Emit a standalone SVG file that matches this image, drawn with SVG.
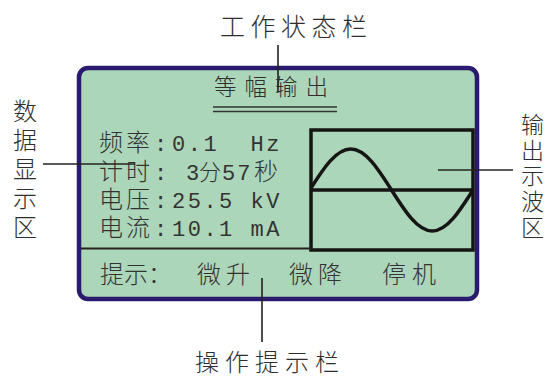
<svg xmlns="http://www.w3.org/2000/svg" width="547" height="378" viewBox="0 0 547 378">
<style>
.lbl{font-family:"Noto Sans CJK SC","Liberation Sans",sans-serif;font-weight:300;fill:#2e2e2e;font-size:24px}
.cjk{font-family:"Noto Sans CJK SC","Liberation Sans",sans-serif;font-weight:300;fill:#333;font-size:24px}
.asc{font-family:"Liberation Mono","Noto Sans CJK SC",monospace;fill:#333;font-size:22px;letter-spacing:2.5px}
.lead{stroke:#222;stroke-width:1.6;fill:none}
.blk{stroke:#151515;fill:none}
</style>
<rect width="547" height="378" fill="#ffffff"/>
<g id="panel">
<rect x="79" y="68" width="398" height="231" rx="9" fill="#acd6b9" stroke="#2a1b6e" stroke-width="4.5"/>
</g>
<g id="status-bar">
<text class="lbl" x="214" y="95" letter-spacing="8" style="font-size:22.5px">等幅输出</text>
<line x1="213" y1="107" x2="337" y2="107" stroke="#333" stroke-width="1.6"/>
<line x1="213" y1="111.5" x2="337" y2="111.5" stroke="#333" stroke-width="1.6"/>
</g>
<g id="data-area">
<text class="cjk" y="151"><tspan x="99 126">频率</tspan><tspan class="asc" x="154">:</tspan><tspan class="asc" x="172" xml:space="preserve">0.1  Hz</tspan></text>
<text class="cjk" y="180"><tspan x="99 126">计时</tspan><tspan class="asc" x="154">:</tspan><tspan class="asc" x="186">3</tspan><tspan x="199" style="font-size:22px">分</tspan><tspan class="asc" x="222" style="letter-spacing:2px">57</tspan><tspan x="254">秒</tspan></text>
<text class="cjk" y="208"><tspan x="99 126">电压</tspan><tspan class="asc" x="154">:</tspan><tspan class="asc" x="172" xml:space="preserve">25.5 kV</tspan></text>
<text class="cjk" y="236"><tspan x="99 126">电流</tspan><tspan class="asc" x="154">:</tspan><tspan class="asc" x="172" xml:space="preserve">10.1 mA</tspan></text>
</g>
<g id="waveform">
<rect class="blk" x="311" y="130" width="162" height="120" stroke-width="3.5"/>
<line class="blk" x1="311" y1="190" x2="473" y2="190" stroke-width="3.5"/>
<path class="blk" stroke-width="3.5" d="M311,188 C323.5,168.5 336,149 350.75,149 C365.5,149 378.2,169 391.5,190 C404.8,211 417.5,231 432.25,231 C447,231 459.7,211 473,190"/>
</g>
<g id="prompt-bar">
<line x1="81" y1="248.5" x2="311" y2="248.5" stroke="#222" stroke-width="2"/>
<text class="cjk" y="283" style="font-size:24px" x="100 124 148 197 226 289 318 382 412">提示：微升微降停机</text>
</g>
<g id="labels">
<text class="lbl" x="220" y="36" style="font-size:25px" letter-spacing="5.5">工作状态栏</text>
<text class="lbl" x="13 13 13 13 13" y="120 149 178 207 236" style="font-size:24px">数据显示区</text>
<text class="lbl" x="521 521 521 521 521" y="133 159 184 210 236" style="font-size:23px">输出示波区</text>
<text class="lbl" x="195" y="371" letter-spacing="6" style="font-size:24px">操作提示栏</text>
</g>
<g id="connectors">
<line class="lead" x1="278" y1="45" x2="278" y2="92"/>
<line class="lead" x1="43" y1="164" x2="135" y2="164"/>
<line class="lead" x1="438" y1="170" x2="513" y2="170"/>
<line class="lead" x1="262" y1="278" x2="262" y2="342"/>
</g>
</svg>
